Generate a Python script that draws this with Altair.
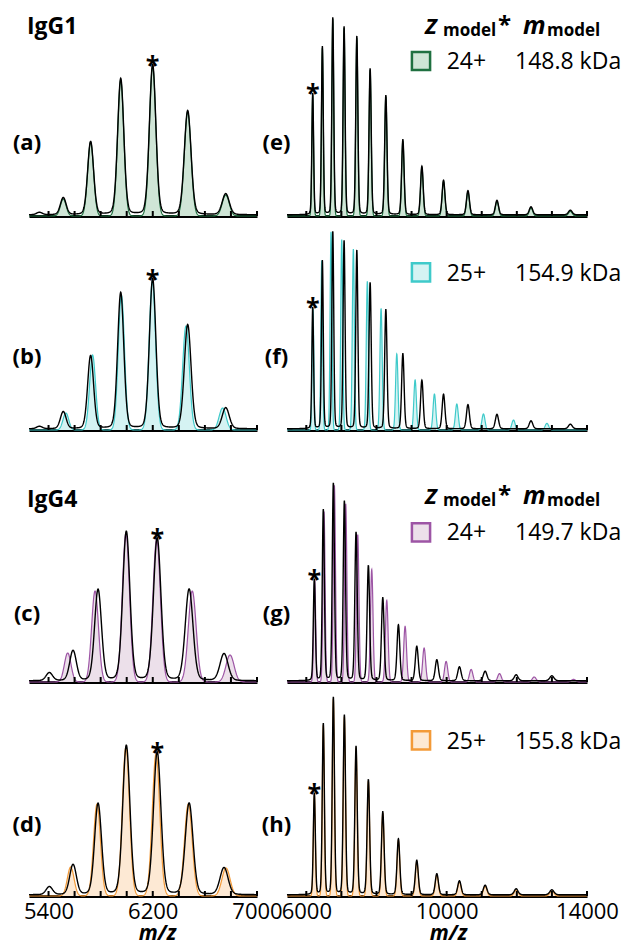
import numpy as np
import pandas as pd
import altair as alt

FONT = "Open Sans"

# ---------------- data ----------------
# IgG1 experimental spectrum, charge-state window (m/z, relative intensity)
igg1_win_mz = [5330, 5513, 5723, 5954, 6199, 6468, 6760]
igg1_win_h = [0.012, 0.085, 0.365, 0.68, 0.75, 0.52, 0.105]
# IgG4 experimental spectrum, charge-state window
igg4_win_mz = [5406, 5588, 5780, 5997, 6234, 6479, 6747]
igg4_win_h = [0.04, 0.15, 0.455, 0.745, 0.712, 0.457, 0.135]
# IgG1 experimental spectrum, wide window
igg1_full_mz = [6183, 6458, 6755, 7077, 7440, 7819, 8267, 8752, 9294, 9911, 10607, 11434, 12404, 13525]
igg1_full_h = [0.607, 0.84, 0.985, 0.94, 0.89, 0.73, 0.597, 0.375, 0.243, 0.173, 0.121, 0.072, 0.04, 0.023]
# IgG4 experimental spectrum, wide window
igg4_full_mz = [6229, 6485, 6771, 7085, 7418, 7769, 8180, 8625, 9149, 9720, 10364, 11097, 11981, 12999]
igg4_full_h = [0.508, 0.855, 0.986, 0.897, 0.741, 0.575, 0.414, 0.279, 0.172, 0.105, 0.07, 0.048, 0.03, 0.025]

# model spectra
a_mz = [5513, 5723, 5954, 6199, 6468, 6760]
a_h = [0.085, 0.37, 0.68, 0.75, 0.52, 0.105]
b_mz = [5533, 5738, 5959, 6197, 6455, 6736]
b_h = [0.085, 0.375, 0.675, 0.745, 0.52, 0.11]
c_mz = [5547, 5757, 5994, 6230, 6503, 6793]
c_h = [0.145, 0.455, 0.745, 0.715, 0.455, 0.135]
d_mz = [5570, 5772, 5994, 6225, 6473, 6762]
d_h = [0.145, 0.46, 0.745, 0.71, 0.46, 0.14]
e_mz = [6183, 6458, 6755, 7077, 7440, 7819, 8267, 8752, 9294, 9911, 10607, 11434, 12404, 13525]
e_h = [0.607, 0.84, 0.985, 0.94, 0.89, 0.73, 0.597, 0.375, 0.243, 0.173, 0.121, 0.072, 0.04, 0.023]
f_mz = [6190, 6440, 6705, 7010, 7341, 7740, 8131, 8579, 9101, 9652, 10290, 11049, 11905, 12857]
f_h = [0.607, 0.847, 0.992, 0.952, 0.905, 0.742, 0.608, 0.38, 0.25, 0.18, 0.13, 0.08, 0.05, 0.033]
g_mz = [6239, 6505, 6800, 7124, 7466, 7865, 8293, 8816, 9358, 9985, 10698, 11506, 12495, 13616]
g_h = [0.508, 0.853, 0.983, 0.89, 0.737, 0.563, 0.408, 0.278, 0.17, 0.103, 0.063, 0.042, 0.025, 0.013]
h_mz = [6229, 6485, 6771, 7085, 7418, 7769, 8180, 8625, 9149, 9720, 10364, 11097, 11981, 12999]
h_h = [0.508, 0.855, 0.986, 0.897, 0.741, 0.575, 0.414, 0.279, 0.172, 0.105, 0.07, 0.048, 0.03, 0.025]

# starred (z_model*) peaks: (m/z, height)
stars = {"a": (6199, 0.75), "b": (6199, 0.75), "c": (6234, 0.712), "d": (6234, 0.712),
         "e": (6183, 0.607), "f": (6183, 0.607), "g": (6229, 0.508), "h": (6229, 0.508)}

legend_z = {"e": "24+", "f": "25+", "g": "24+", "h": "25+"}
legend_m = {"e": "148.8 kDa", "f": "154.9 kDa", "g": "149.7 kDa", "h": "155.8 kDa"}

left_ticks = [5400, 5600, 5800, 6000, 6200, 6400, 6600, 6800, 7000]
right_ticks = [6000, 7000, 8000, 9000, 10000, 11000, 12000, 13000, 14000]
left_labels = [5400, 6200, 7000]
right_labels = [6000, 10000, 14000]

GREEN = ("#1f7040", "#cfe5d6")
CYAN = ("#3fcaca", "#d5f3f3")
PURPLE = ("#9d55a5", "#ece0ea")
ORANGE = ("#f39a38", "#fde9d4")

W_IGG1 = 0.0040
W_IGG4 = 0.0046

L_DOM = [5250, 7000]
R_DOM = [5450, 14000]
L_W, R_W = 228, 300
ROW_H = [200, 200, 238, 200]


def gauss(x, mz, h, wf):
    y = np.zeros_like(x)
    for c, a in zip(mz, h):
        s = wf * c
        y += a * np.exp(-0.5 * ((x - c) / s) ** 2)
    return y


def voigt(x, mz, h, wf):
    y = np.zeros_like(x)
    for c, a in zip(mz, h):
        s = wf * c
        g = np.exp(-0.5 * ((x - c) / s) ** 2)
        l = 1.0 / (1.0 + ((x - c) / (1.1774 * s)) ** 2)
        y += a * (0.86 * g + 0.14 * l)
    return y + 0.006


def txt(s, x, y, size, weight="normal", style="normal", align="left", baseline="alphabetic"):
    return alt.Chart(pd.DataFrame({"t": [s]})).mark_text(
        font=FONT, fontSize=size, fontWeight=weight, fontStyle=style,
        align=align, baseline=baseline, color="black"
    ).encode(text="t:N", x=alt.value(x), y=alt.value(y))


def panel(key, side, row, exp, model, colors, wf):
    H = ROW_H[row]
    ymax = H / 200.0
    dom = L_DOM if side == "L" else R_DOM
    width = L_W if side == "L" else R_W
    step = 2 if side == "L" else 4
    x = np.arange(dom[0], dom[1] + step, step, dtype=float)
    df = pd.DataFrame({
        "mz": x,
        "model": np.round(gauss(x, model[0], model[1], wf), 4),
        "exp": np.round(voigt(x, exp[0], exp[1], wf), 4),
    })
    bottom = row == 3
    xscale = alt.Scale(domain=dom, nice=False, zero=False)
    yscale = alt.Scale(domain=[0, ymax], nice=False, zero=True)
    axis_kw = dict(
        ticks=False, tickSize=0, grid=False, domain=True, domainColor="black", domainWidth=3,
        labels=bottom, values=(left_labels if side == "L" else right_labels),
        labelFont=FONT, labelFontSize=22, labelColor="black", labelFlush=False,
        labelOverlap=False, labelBaseline="alphabetic", labelPadding=22,
        format="d",
    )
    if bottom:
        axis = alt.Axis(title="m/z", titleFont=FONT, titleFontSize=21, titleFontWeight="bold",
                        titleFontStyle="italic", titleColor="black",
                        titleX=(128 if side == "L" else 161), titleY=43,
                        titleBaseline="alphabetic", titleAlign="center", **axis_kw)
    else:
        axis = alt.Axis(title=None, **axis_kw)

    base = alt.Chart(df)
    area = base.mark_area(color=colors[1], opacity=1,
                          line={"color": colors[0], "strokeWidth": 1.2}).encode(
        x=alt.X("mz:Q", scale=xscale, axis=axis),
        y=alt.Y("model:Q", scale=yscale, axis=None),
    )
    line = base.mark_line(color="black", strokeWidth=1.4).encode(
        x=alt.X("mz:Q", scale=xscale),
        y=alt.Y("exp:Q", scale=yscale, axis=None),
    )
    ticks = alt.Chart(pd.DataFrame({"mz": left_ticks if side == "L" else right_ticks})).mark_rule(
        color="black", strokeWidth=2).encode(
        x=alt.X("mz:Q", scale=xscale),
        y=alt.value(H), y2=alt.value(H - 5),
    )
    sx, sy = stars[key]
    star = alt.Chart(pd.DataFrame({"mz": [sx], "I": [sy + 0.006], "t": ["*"]})).mark_text(
        font=FONT, fontSize=25, fontWeight="bold", baseline="alphabetic", dy=9, color="black"
    ).encode(
        x=alt.X("mz:Q", scale=xscale),
        y=alt.Y("I:Q", scale=yscale, axis=None),
        text="t:N",
    )
    layers = [area, line, ticks, star]

    lab_dy = {0: 73.4, 1: 73.5, 2: 68.3, 3: 71}[row]
    lx = -2 if side == "L" else -10.5
    layers.append(txt("(" + key + ")", lx, H - lab_dy, 22, weight="bold", align="center", baseline="middle"))

    if side == "L" and row in (0, 2):
        name = "IgG1" if row == 0 else "IgG4"
        layers.append(txt(name, -2, H - (181.7 if row == 0 else 175), 23, weight="bold"))

    if side == "R":
        if row in (0, 2):
            hb = H - (181.7 if row == 0 else 178.3)
            layers += [
                txt("Z", 138, hb, 22, weight="bold", style="italic"),
                txt("model", 156, hb + 2, 17, weight="bold"),
                txt("*", 211, hb - 1, 24, weight="bold"),
                txt("m", 236, hb, 25, weight="bold", style="italic"),
                txt("model", 260, hb + 2, 17, weight="bold"),
            ]
        sq_dy = {0: 155, 1: 157.7, 2: 149.6, 3: 155.6}[row]
        tb_dy = {0: 146.7, 1: 149.3, 2: 141.6, 3: 146.6}[row]
        sq = alt.Chart(pd.DataFrame({"t": [""]})).mark_square(
            size=330, filled=True, fill=colors[1], stroke=colors[0], strokeWidth=2.5, opacity=1
        ).encode(x=alt.value(134), y=alt.value(H - sq_dy))
        layers += [sq,
                   txt(legend_z[key], 159.7, H - tb_dy, 23),
                   txt(legend_m[key], 228, H - tb_dy, 23)]

    return alt.layer(*layers).properties(width=width, height=H)


charts = [
    panel("a", "L", 0, (igg1_win_mz, igg1_win_h), (a_mz, a_h), GREEN, W_IGG1),
    panel("e", "R", 0, (igg1_full_mz, igg1_full_h), (e_mz, e_h), GREEN, W_IGG1),
    panel("b", "L", 1, (igg1_win_mz, igg1_win_h), (b_mz, b_h), CYAN, W_IGG1),
    panel("f", "R", 1, (igg1_full_mz, igg1_full_h), (f_mz, f_h), CYAN, W_IGG1),
    panel("c", "L", 2, (igg4_win_mz, igg4_win_h), (c_mz, c_h), PURPLE, W_IGG4),
    panel("g", "R", 2, (igg4_full_mz, igg4_full_h), (g_mz, g_h), PURPLE, W_IGG4),
    panel("d", "L", 3, (igg4_win_mz, igg4_win_h), (d_mz, d_h), ORANGE, W_IGG4),
    panel("h", "R", 3, (igg4_full_mz, igg4_full_h), (h_mz, h_h), ORANGE, W_IGG4),
]

chart = alt.concat(*charts, columns=2, spacing={"row": 14, "column": 30}, bounds="flush").properties(
    padding={"left": 12, "top": 14, "right": 0, "bottom": 0}
).configure(background="white", view=alt.ViewConfig(stroke=None))

chart.save("out.html", embed_options={"renderer": "svg", "actions": False})
